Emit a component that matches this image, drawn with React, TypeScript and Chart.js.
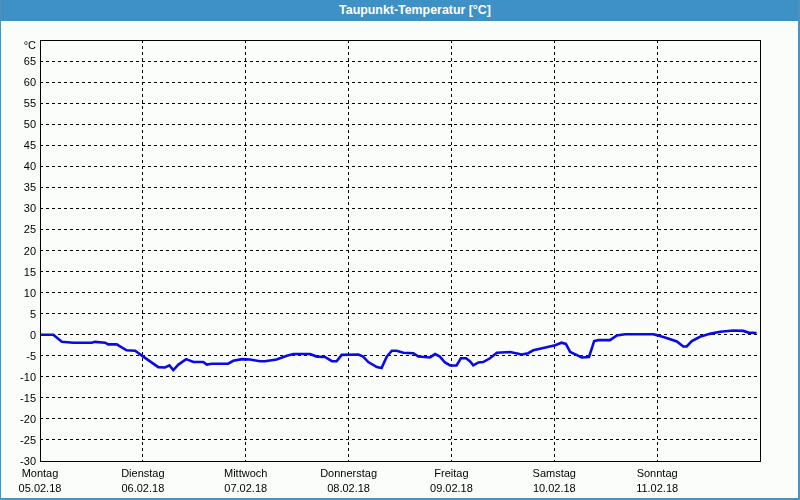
import React, { useEffect, useRef } from "react";
import { Chart, registerables } from "chart.js";

Chart.register(...registerables);

const TITLE = "Taupunkt-Temperatur [°C]";
const UNIT_LABEL = "°C";
const DAY_NAMES = ["Montag", "Dienstag", "Mittwoch", "Donnerstag", "Freitag", "Samstag", "Sonntag"];
const DAY_DATES = ["05.02.18", "06.02.18", "07.02.18", "08.02.18", "09.02.18", "10.02.18", "11.02.18"];

// hours since Monday 00:00
const HOURS = [
  0, 3.1, 5.1, 7.8, 12.1, 12.8, 15.2, 15.9, 17.9, 20.2, 22.2, 24.1, 27.6, 29.2, 30.2, 31.1, 32.3,
  34.1, 35.8, 38.1, 38.9, 40.1, 43.9, 45.1, 47.1, 49.0, 51.3, 52.5, 55.2, 57.6, 59.1, 63.0, 64.6,
  66.5, 68.1, 69.2, 70.4, 74.3, 75.4, 76.6, 78.6, 79.7, 80.9, 82.1, 83.2, 84.8, 87.1, 88.3, 91.0,
  92.2, 93.3, 94.5, 95.7, 97.2, 98.2, 99.4, 100.3, 101.1, 102.3, 103.4, 105.0, 106.6, 109.7, 112.4,
  113.9, 115.1, 118.2, 120.2, 121.7, 122.7, 123.7, 124.8, 126.4, 128.1, 128.6, 129.3, 130.3, 133.0,
  134.6, 136.5, 143.1, 143.9, 146.2, 148.6, 150.1, 150.9, 152.1, 154.0, 156.3, 158.7, 161.8, 164.1,
  165.3, 167.2,
];

const DEWPOINT = [
  0, 0, -1.7, -1.9, -1.9, -1.7, -1.9, -2.3, -2.3, -3.7, -3.8, -5.2, -7.7, -7.8, -7.3, -8.4, -7.1,
  -5.8, -6.5, -6.5, -7.1, -6.9, -6.9, -6.2, -5.8, -5.9, -6.3, -6.3, -5.9, -5.0, -4.6, -4.6, -5.2,
  -5.3, -6.3, -6.3, -4.8, -4.7, -5.2, -6.5, -7.7, -7.9, -5.2, -3.8, -3.8, -4.3, -4.4, -5.2, -5.4,
  -4.6, -5.2, -6.6, -7.3, -7.3, -5.6, -5.6, -6.3, -7.3, -6.6, -6.5, -5.6, -4.3, -4.1, -4.7,
  -4.4, -3.7, -3.0, -2.5, -1.9, -2.2, -4.1, -4.6, -5.4, -5.3, -3.7, -1.5, -1.3, -1.3,
  -0.2, 0.1, 0.1, -0.1, -0.8, -1.6, -2.8, -2.8, -1.5, -0.5, 0.2, 0.7, 1.0, 0.9,
  0.5, 0.4,
];

const Y_MIN = -30;
const Y_MAX = 70;
const Y_STEP = 5;
const X_MAX = 168;
const X_STEP = 24;

const FONT = "'Liberation Sans', Arial, sans-serif";

export default function App() {
  const ref = useRef<HTMLCanvasElement | null>(null);

  useEffect(() => {
    document.body.style.margin = "0";
    const canvas = ref.current;
    if (!canvas) return;
    const frame = {
      id: "frame",
      afterDraw(chart: any) {
        const { ctx, chartArea } = chart;
        ctx.save();
        ctx.strokeStyle = "#000";
        ctx.lineWidth = 1;
        ctx.setLineDash([]);
        ctx.strokeRect(
          Math.round(chartArea.left) + 0.5,
          Math.round(chartArea.top) + 0.5,
          Math.round(chartArea.right - chartArea.left),
          Math.round(chartArea.bottom - chartArea.top)
        );
        ctx.fillStyle = "#000";
        ctx.font = "11px " + FONT;
        ctx.textAlign = "right";
        ctx.textBaseline = "middle";
        ctx.fillText(UNIT_LABEL, chartArea.left - 4, chartArea.top + 6);
        ctx.restore();
      },
    };
    const chart = new Chart(canvas, {
      type: "line",
      data: {
        datasets: [
          {
            data: HOURS.map((h, i) => ({ x: h, y: DEWPOINT[i] })),
            borderColor: "#0a0ae8",
            borderWidth: 2.6,
            pointRadius: 0,
            tension: 0,
            fill: false,
          },
        ],
      },
      options: {
        animation: false,
        responsive: false,
        maintainAspectRatio: false,
        layout: { padding: { top: 40, right: 40, left: 0, bottom: 0 } },
        plugins: { legend: { display: false }, tooltip: { enabled: false }, title: { display: false } },
        scales: {
          x: {
            type: "linear",
            min: 0,
            max: X_MAX,
            afterFit: (s: any) => {
              s.height = 39;
            },
            ticks: {
              stepSize: X_STEP,
              autoSkip: false,
              maxRotation: 0,
              padding: 5,
              color: "#000",
              font: { family: FONT, size: 11, lineHeight: 1.4 },
              callback: (v: any) => {
                const i = Math.round(Number(v) / X_STEP);
                return i < DAY_NAMES.length ? [DAY_NAMES[i], DAY_DATES[i]] : "";
              },
            },
            grid: { color: "#000", lineWidth: 1, drawTicks: false, tickLength: 0 },
            border: { display: false, dash: [3, 3] },
          },
          y: {
            min: Y_MIN,
            max: Y_MAX,
            afterFit: (s: any) => {
              s.width = 40;
            },
            ticks: {
              stepSize: Y_STEP,
              padding: 4,
              labelOffset: 1,
              color: "#000",
              font: { family: FONT, size: 11 },
              callback: (v: any) => (Number(v) === Y_MAX ? "" : String(v)),
            },
            grid: { color: "#000", lineWidth: 1, drawTicks: false, tickLength: 0 },
            border: { display: false, dash: [3, 3] },
          },
        },
      },
      plugins: [frame],
    } as any);
    return () => chart.destroy();
  }, []);

  return (
    <div
      style={{
        position: "fixed",
        left: 0,
        top: 0,
        width: 800,
        height: 500,
        boxSizing: "border-box",
        background: "#fbfdfb",
        borderLeft: "1px solid #4a92c0",
        borderRight: "2px solid #4a92c0",
        borderBottom: "2px solid #4a92c0",
        overflow: "hidden",
      }}
    >
      <canvas ref={ref} width={800} height={500} style={{ position: "absolute", left: -1, top: 0 }} />
      <div
        style={{
          position: "absolute",
          left: -1,
          top: 0,
          width: 800,
          height: 21,
          background: "#3d91c4",
          color: "#fff",
          fontFamily: FONT,
          fontWeight: "bold",
          fontSize: 12.4,
          lineHeight: "21px",
          boxSizing: "border-box",
          paddingLeft: 30,
          textAlign: "center",
        }}
      >
        {TITLE}
      </div>
    </div>
  );
}
